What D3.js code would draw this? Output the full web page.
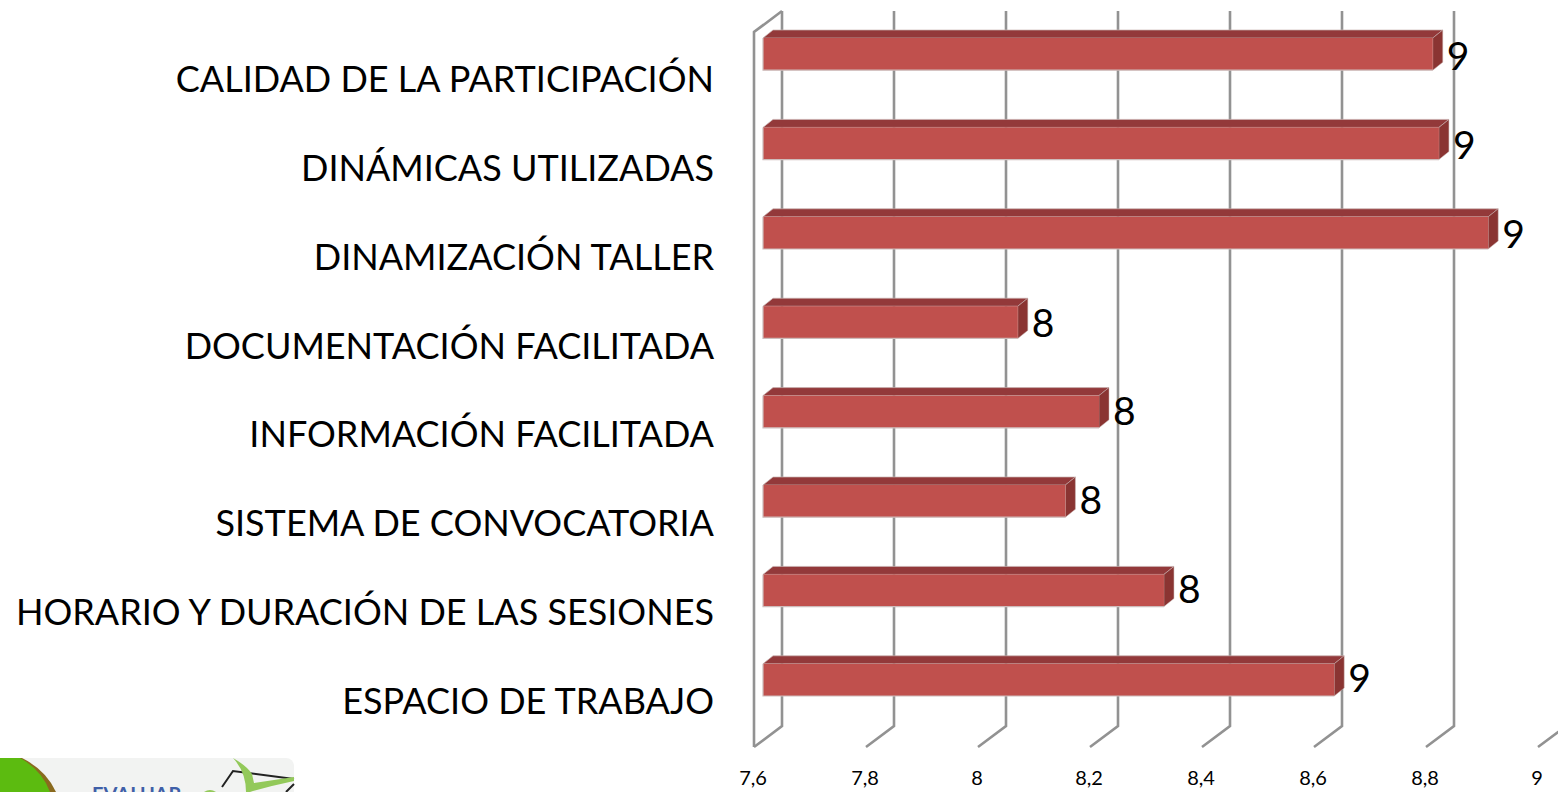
<!DOCTYPE html>
<html><head><meta charset="utf-8">
<script src="https://cdn.jsdelivr.net/npm/d3@7"></script>
<style>html,body{margin:0;padding:0;background:#fff;overflow:hidden}svg{display:block}</style>
</head><body><div id="c"></div>
<script>
const categories = ["CALIDAD DE LA PARTICIPACIÓN","DINÁMICAS UTILIZADAS","DINAMIZACIÓN TALLER","DOCUMENTACIÓN FACILITADA","INFORMACIÓN FACILITADA","SISTEMA DE CONVOCATORIA","HORARIO Y DURACIÓN DE LAS SESIONES","ESPACIO DE TRABAJO"];
const values = [8.796,8.807,8.895,8.055,8.2,8.14,8.316,8.62];
const dataLabels = ["9","9","9","8","8","8","8","9"];
const tickValues = [7.6,7.8,8,8.2,8.4,8.6,8.8,9];
const tickLabels = ["7,6","7,8","8","8,2","8,4","8,6","8,8","9"];

const W=1558,H=792;
const svg=d3.select("#c").append("svg").attr("width",W).attr("height",H);
const font="Lato, 'Open Sans', sans-serif";
const x=d3.scaleLinear().domain([7.6,9]).range([754,1538]);
const y=d3.scaleBand().domain(categories).range([-6.7,740.7]).paddingInner(0.64).paddingOuter(0.5);
const labelY=d3.scalePoint().domain(categories).range([92,714]);
const dx=28,dy=21,yTop=32,yBot=747;
const gridColor="#929292";

const g=svg.append("g");
g.append("path").attr("d",`M${x(7.6)},${yBot}V${yTop}L${x(7.6)+dx},${yTop-dy}`)
 .attr("fill","none").attr("stroke",gridColor).attr("stroke-width",2.6);
g.selectAll(".grid").data(tickValues).join("path").attr("class","grid")
 .attr("d",d=>`M${x(d)},${yBot}L${x(d)+dx},${yBot-dy}V${yTop-dy}`)
 .attr("fill","none").attr("stroke",gridColor).attr("stroke-width",2.6);

const ox=9, bx=10, by=8;
const bars=g.selectAll(".bar").data(categories.map((c,i)=>({c,v:values[i],l:dataLabels[i]}))).join("g").attr("class","bar");
bars.append("path").attr("fill","#93393a").attr("stroke","#c8b4b3").attr("stroke-width",.7)
 .attr("d",d=>{const l=x(7.6)+ox,r=x(d.v)+ox,t=y(d.c);
   return `M${l},${t}L${l+bx},${t-by}H${r+bx}L${r},${t}Z`;});
bars.append("path").attr("fill","#8a3432").attr("stroke","#c8b4b3").attr("stroke-width",.5)
 .attr("d",d=>{const r=x(d.v)+ox,t=y(d.c),b=t+y.bandwidth();
   return `M${r},${t}L${r+bx},${t-by}V${b-by}L${r},${b}Z`;});
bars.append("rect").attr("fill","#c0504d")
 .attr("x",x(7.6)+ox).attr("y",d=>y(d.c)).attr("width",d=>x(d.v)-x(7.6)).attr("height",y.bandwidth());
bars.append("path").attr("fill","none").attr("stroke","#cdbcbb").attr("stroke-width",1.2)
 .attr("d",d=>{const l=x(7.6)+ox,b=y(d.c)+y.bandwidth();return `M${l},${y(d.c)}V${b}H${x(d.v)+ox}`;});
bars.append("text").text(d=>d.l).attr("x",d=>x(d.v)+ox+bx+4).attr("y",d=>labelY(d.c)-22)
 .attr("font-family",font).attr("font-size",39).attr("fill","#000");

svg.selectAll(".cat").data(categories).join("text").attr("class","cat").text(d=>d)
 .attr("x",714).attr("y",d=>labelY(d)).attr("text-anchor","end")
 .attr("font-family",font).attr("font-size",36).attr("fill","#000");

svg.selectAll(".tick").data(tickValues).join("text").attr("class","tick")
 .text((d,i)=>tickLabels[i]).attr("x",d=>x(d)-1).attr("y",785).attr("text-anchor","middle")
 .attr("font-family",font).attr("font-size",20).attr("fill","#000");

const logo=svg.append("g");
logo.append("rect").attr("x",-10).attr("y",758).attr("width",304).attr("height",60).attr("rx",8).attr("fill","#f2f3f2");
logo.append("path").attr("d","M0,758H22Q46,770 56,792H0Z").attr("fill","#8a6a1f");
logo.append("path").attr("d","M0,758H20Q42,770 50,792H0Z").attr("fill","#5cbb10");
logo.append("text").text("EVALUAR").attr("x",92).attr("y",802).attr("font-family",font).attr("font-weight",700).attr("font-size",20).attr("fill","#3f5fa8");
logo.append("path").attr("d","M222,787L233,771L294,779M294,784L286,792").attr("fill","none").attr("stroke","#222").attr("stroke-width",2);
logo.append("path").attr("d","M233,758Q247,766 252,774L254,783L294,777L294,781Q270,786 250,792H246Q246,772 233,758Z").attr("fill","#93c95a");
logo.append("path").attr("d","M204,792Q210,788 216,792Z").attr("fill","#93c95a");
</script></body></html>
